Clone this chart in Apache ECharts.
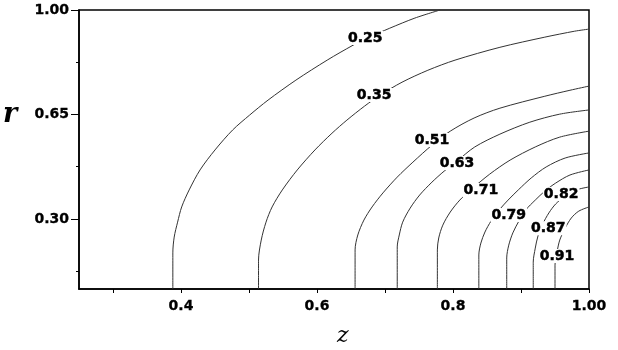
<!DOCTYPE html>
<html>
<head>
<meta charset="utf-8">
<script src="https://cdn.jsdelivr.net/npm/echarts@6/dist/echarts.min.js"></script>
<style>
html,body{margin:0;padding:0;background:#fff;}
#chart{width:618px;height:350px;}
</style>
</head>
<body>
<div id="chart"></div>
<script>
// Axis ticks and labels
const xTickValues = [0.3, 0.4, 0.5, 0.6, 0.7, 0.8, 0.9, 1.0];
const xLabelValues = [0.4, 0.6, 0.8, 1.0];
const xLabelTexts = ['0.4', '0.6', '0.8', '1.00'];
const yMajorValues = [0.30, 0.65, 1.00];
const yLabelTexts = ['0.30', '0.65', '1.00'];
const yMinorValues = [0.125, 0.475, 0.825];

// Contour lines: [z, r] points
const c025 = [[0.388,0.065],[0.388,0.186],[0.390,0.239],[0.395,0.289],[0.401,0.340],[0.412,0.397],[0.428,0.464],[0.450,0.531],[0.476,0.598],[0.501,0.648],[0.528,0.698],[0.569,0.765],[0.615,0.832],[0.653,0.882],[0.674,0.906],[0.707,0.939],[0.744,0.973],[0.781,1.0]];
const c035 = [[0.514,0.065],[0.514,0.162],[0.518,0.229],[0.525,0.289],[0.534,0.340],[0.549,0.397],[0.571,0.464],[0.597,0.531],[0.622,0.587],[0.644,0.631],[0.670,0.678],[0.693,0.715],[0.725,0.758],[0.763,0.798],[0.803,0.832],[0.869,0.875],[0.935,0.909],[0.979,0.929],[1.0,0.936]];
const c051 = [[0.656,0.065],[0.656,0.196],[0.660,0.246],[0.669,0.296],[0.681,0.340],[0.697,0.387],[0.718,0.440],[0.741,0.490],[0.769,0.547],[0.796,0.594],[0.831,0.638],[0.869,0.671],[0.935,0.711],[0.972,0.731],[1.0,0.745]];
const c063 = [[0.718,0.065],[0.718,0.206],[0.721,0.246],[0.726,0.289],[0.737,0.336],[0.751,0.380],[0.769,0.423],[0.787,0.460],[0.806,0.494],[0.832,0.541],[0.869,0.584],[0.913,0.624],[0.957,0.651],[1.0,0.665]];
const c071 = [[0.777,0.065],[0.777,0.196],[0.779,0.236],[0.785,0.279],[0.796,0.323],[0.810,0.363],[0.826,0.397],[0.854,0.450],[0.884,0.497],[0.921,0.541],[0.957,0.574],[1.0,0.594]];
const c079 = [[0.838,0.065],[0.838,0.179],[0.841,0.219],[0.847,0.256],[0.856,0.293],[0.868,0.330],[0.881,0.363],[0.896,0.397],[0.915,0.437],[0.937,0.474],[0.965,0.504],[1.0,0.521]];
const c082 = [[0.879,0.065],[0.879,0.169],[0.882,0.212],[0.888,0.253],[0.897,0.293],[0.907,0.330],[0.921,0.363],[0.935,0.393],[0.951,0.420],[0.972,0.447],[1.0,0.464]];
const c087 = [[0.918,0.065],[0.918,0.155],[0.921,0.202],[0.925,0.243],[0.932,0.283],[0.941,0.320],[0.951,0.350],[0.965,0.377],[0.981,0.397],[1.0,0.407]];
const c091 = [[0.950,0.065],[0.950,0.145],[0.953,0.189],[0.957,0.229],[0.965,0.269],[0.974,0.303],[0.985,0.326],[1.0,0.340]];

const contours = [c025, c035, c051, c063, c071, c079, c082, c087, c091];

// Contour labels
const labelTexts = ['0.25','0.35','0.51','0.63','0.71','0.79','0.82','0.87','0.91'];
const labelZ = [0.671, 0.684, 0.769, 0.806, 0.841, 0.882, 0.959, 0.940, 0.953];
const labelR = [0.906, 0.715, 0.564, 0.487, 0.397, 0.313, 0.383, 0.269, 0.176];

const chart = echarts.init(document.getElementById('chart'), null, {renderer: 'canvas'});

function findText(values, texts, v) {
  for (let i = 0; i < values.length; i++) {
    if (Math.abs(values[i] - v) < 1e-6) return texts[i];
  }
  return '';
}

const lineSeries = contours.map((c, i) => ({
  type: 'line',
  name: labelTexts[i],
  data: c,
  showSymbol: false,
  smooth: 0.3,
  lineStyle: {color: '#333333', width: 1},
  silent: true,
  z: 2
}));

const labelSeries = {
  type: 'scatter',
  data: labelTexts.map((t, i) => ({name: t, value: [labelZ[i], labelR[i]]})),
  symbolSize: 1,
  itemStyle: {color: '#ffffff', opacity: 1},
  label: {
    show: true,
    position: 'inside',
    formatter: '{b}',
    color: '#000000',
    opacity: 1,
    fontFamily: 'DejaVu Sans',
    fontWeight: 'bold',
    fontSize: 14,
    textBorderColor: '#000000',
    textBorderWidth: 0.5,
    backgroundColor: '#ffffff',
    padding: [0, 1]
  },
  silent: true,
  z: 5
};

const tickFont = {color: '#000', fontFamily: 'DejaVu Sans', fontWeight: 'bold', fontSize: 14, textBorderColor: '#000', textBorderWidth: 0.3};

const option = {
  animation: false,
  backgroundColor: '#fff',
  grid: {left: 79, top: 10, right: 29, bottom: 61, show: true, borderColor: '#000', borderWidth: 1.5, backgroundColor: 'transparent'},
  xAxis: {
    type: 'value', min: 0.25, max: 1.0,
    axisLine: {show: true, lineStyle: {color: '#000', width: 1.5}},
    axisTick: {show: true, customValues: xTickValues, length: 4, lineStyle: {color: '#000'}},
    axisLabel: Object.assign({
      show: true, customValues: xLabelValues,
      formatter: v => findText(xLabelValues, xLabelTexts, v),
      margin: 10
    }, tickFont),
    splitLine: {show: false}
  },
  yAxis: [{
    type: 'value', min: 0.065, max: 1.0, position: 'left', offset: 0,
    axisLine: {show: true, lineStyle: {color: '#000', width: 1.5}},
    axisTick: {show: true, customValues: yMajorValues, length: 8, lineStyle: {color: '#000'}},
    axisLabel: Object.assign({
      show: true, customValues: yMajorValues,
      formatter: v => findText(yMajorValues, yLabelTexts, v),
      margin: 10
    }, tickFont),
    splitLine: {show: false}
  }, {
    type: 'value', min: 0.065, max: 1.0, position: 'left', offset: 0,
    axisLine: {show: false},
    axisTick: {show: true, customValues: yMinorValues, length: 3, lineStyle: {color: '#000'}},
    axisLabel: {show: false},
    splitLine: {show: false}
  }],
  graphic: [
    {type: 'text', left: 3, top: 101, style: {text: 'r', font: 'italic bold 27px "DejaVu Serif"', fill: '#000'}},
    {type: 'text', left: 337, top: 325, style: {text: 'z', font: 'italic 22px "DejaVu Serif"', fill: '#000'}}
  ],
  series: lineSeries.concat([labelSeries])
};

chart.setOption(option);
</script>
</body>
</html>
